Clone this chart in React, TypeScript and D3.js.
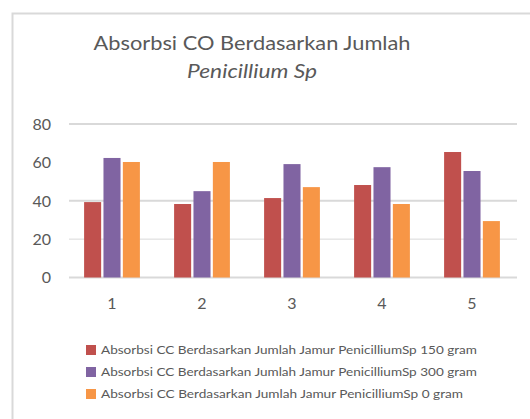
import React, { useEffect, useRef } from 'react'
import * as d3 from 'd3'

const categories = ['1', '2', '3', '4', '5']
const seriesNames = [
  'Absorbsi CC Berdasarkan Jumlah Jamur PenicilliumSp 150 gram',
  'Absorbsi CC Berdasarkan Jumlah Jamur PenicilliumSp 300 gram',
  'Absorbsi CC Berdasarkan Jumlah Jamur PenicilliumSp 0 gram',
]
const gram150 = [39.3, 38.3, 41.4, 48.2, 65.4]
const gram300 = [62.3, 45, 59.1, 57.5, 55.5]
const gram0 = [60.2, 60.2, 47.1, 38.3, 29.4]
const yTicks = [0, 20, 40, 60, 80]
const gridTicks = [0, 20, 40, 80]
const colors = ['#c0504d', '#8064a2', '#f79646']

const App = () => {
  const ref = useRef<SVGSVGElement>(null)

  useEffect(() => {
    const svg = d3.select(ref.current)
    svg.selectAll('*').remove()

    const width = 530
    const height = 419
    const font = 'Lato, "Open Sans", sans-serif'
    const values = [gram150, gram300, gram0]

    // frame
    svg.append('rect')
      .attr('x', 12.5).attr('y', 13.5)
      .attr('width', width).attr('height', height)
      .attr('fill', '#fff')
      .attr('stroke', '#d9d9d9')
      .attr('stroke-width', 2)

    // title
    svg.append('text')
      .attr('x', 252).attr('y', 50)
      .attr('text-anchor', 'middle')
      .attr('font-family', font)
      .attr('font-size', 20)
      .attr('fill', '#595959')
      .attr('textLength', 317)
      .attr('lengthAdjust', 'spacingAndGlyphs')
      .text('Absorbsi CO Berdasarkan Jumlah')

    svg.append('text')
      .attr('x', 252).attr('y', 78)
      .attr('text-anchor', 'middle')
      .attr('font-family', font)
      .attr('font-style', 'italic')
      .attr('font-size', 20)
      .attr('fill', '#595959')
      .attr('textLength', 130)
      .attr('lengthAdjust', 'spacingAndGlyphs')
      .text('Penicillium Sp')

    const x0 = d3.scaleBand()
      .domain(categories)
      .range([67, 517])
      .padding(0)

    const x1 = d3.scaleBand()
      .domain(['0', '1', '2'])
      .range([x0.bandwidth() * 0.19, x0.bandwidth() * 0.81])
      .paddingInner(0.12)

    const yScale = d3.scaleLinear()
      .domain([0, 80])
      .range([277.5, 124])

    // gridlines
    svg.append('g')
      .selectAll('line')
      .data(gridTicks)
      .join('line')
      .attr('x1', 69).attr('x2', 517)
      .attr('y1', d => yScale(d)).attr('y2', d => yScale(d))
      .attr('stroke', '#d9d9d9')
      .attr('stroke-width', d => (d === 20 ? 1 : 2))

    // y labels
    svg.append('g')
      .selectAll('text')
      .data(yTicks)
      .join('text')
      .attr('x', 51)
      .attr('y', d => yScale(d))
      .attr('dy', '0.36em')
      .attr('text-anchor', 'end')
      .attr('font-family', font)
      .attr('font-size', 16)
      .attr('fill', '#595959')
      .text(d => d)

    // bars
    const groups = svg.append('g')
      .selectAll('g')
      .data(categories)
      .join('g')
      .attr('transform', d => `translate(${x0(d)},0)`)

    groups.selectAll('rect')
      .data((d, i) => values.map((s, k) => ({ k, v: s[i] })))
      .join('rect')
      .attr('x', d => x1(String(d.k)) as number)
      .attr('y', d => yScale(d.v))
      .attr('width', x1.bandwidth())
      .attr('height', d => yScale(0) - yScale(d.v))
      .attr('fill', d => colors[d.k])

    // x labels
    svg.append('g')
      .selectAll('text')
      .data(categories)
      .join('text')
      .attr('x', d => (x0(d) as number) + x0.bandwidth() / 2)
      .attr('y', 303)
      .attr('dy', '0.36em')
      .attr('text-anchor', 'middle')
      .attr('font-family', font)
      .attr('font-size', 16)
      .attr('fill', '#595959')
      .text(d => d)

    // legend
    const legend = svg.append('g')
      .selectAll('g')
      .data(seriesNames)
      .join('g')
      .attr('transform', (d, i) => `translate(86,${350 + i * 22})`)

    legend.append('rect')
      .attr('x', 0).attr('y', -5)
      .attr('width', 10).attr('height', 10)
      .attr('fill', (d, i) => colors[i])

    legend.append('text')
      .attr('x', 15).attr('y', 0)
      .attr('dy', '0.36em')
      .attr('font-family', font)
      .attr('font-size', 12)
      .attr('fill', '#595959')
      .attr('textLength', (d, i) => (i === 2 ? 362 : 376))
      .attr('lengthAdjust', 'spacingAndGlyphs')
      .text(d => d)
  }, [])

  return (
    <div style={{ position: 'absolute', left: 0, top: 0 }}>
      <svg ref={ref} width={530} height={419} style={{ display: 'block' }} />
    </div>
  )
}

export default App
